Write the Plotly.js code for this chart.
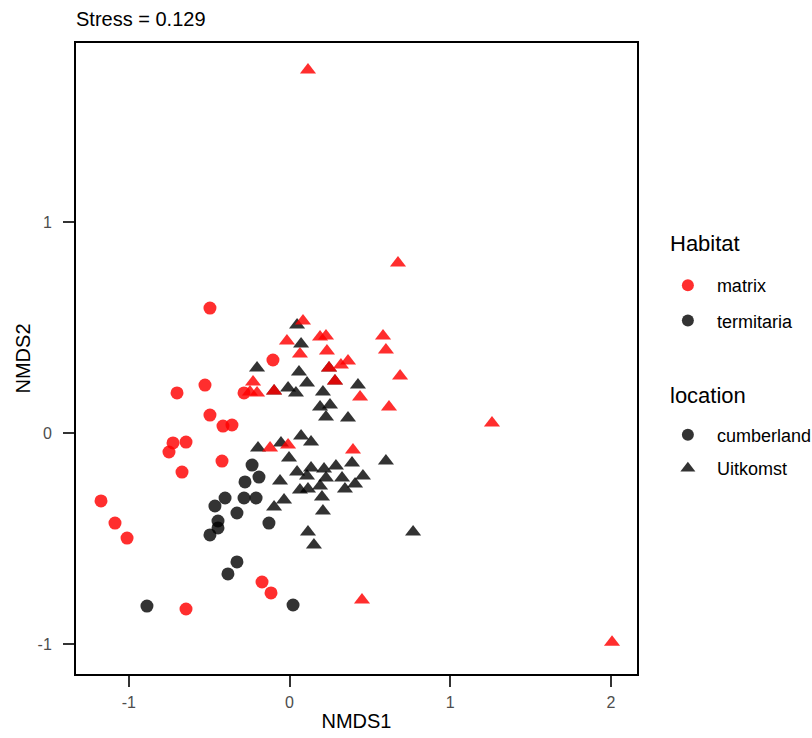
<!DOCTYPE html>
<html>
<head>
<meta charset="utf-8">
<script src="https://cdn.plot.ly/plotly-3.0.1.min.js"></script>
<style>
  html, body { margin: 0; padding: 0; background: #ffffff; }
  #plot { width: 812px; height: 738px; }
</style>
</head>
<body>
<div id="plot"></div>
<script>
// NMDS site scores, split by Habitat x location
// termitaria / cumberland (circles, dark)
const termCumbX = [-0.233, -0.190, -0.277, -0.401, -0.464, -0.283, -0.208, -0.327, -0.445, -0.445, -0.495, -0.128, -0.327, -0.383, -0.887, 0.022];
const termCumbY = [-0.152, -0.209, -0.232, -0.308, -0.346, -0.308, -0.308, -0.379, -0.417, -0.450, -0.483, -0.427, -0.611, -0.668, -0.820, -0.815];

// termitaria / Uitkomst (triangles, dark)
const termUitX = [0.047, 0.072, -0.202, 0.059, 0.109, -0.009, 0.040, -0.096, 0.208, 0.246, 0.283, 0.426, 0.190, 0.252, 0.227, 0.364,
                  0.072, 0.134, -0.196, -0.053, -0.003, -0.059, 0.047, 0.109, 0.134, 0.215, 0.289, 0.389, 0.227, 0.327, 0.190, 0.457,
                  0.408, 0.345, 0.065, 0.115, 0.202, -0.034, -0.096, 0.208, 0.115, 0.152, 0.600, 0.769];
const termUitY = [0.512, 0.422, 0.308, 0.289, 0.237, 0.213, 0.190, 0.199, 0.194, 0.308, 0.246, 0.227, 0.123, 0.133, 0.076, 0.071,
                  -0.014, -0.043, -0.071, -0.047, -0.118, -0.227, -0.185, -0.204, -0.166, -0.171, -0.156, -0.142, -0.213, -0.213, -0.251, -0.204,
                  -0.242, -0.265, -0.270, -0.265, -0.303, -0.318, -0.351, -0.370, -0.469, -0.531, -0.133, -0.469];

// matrix / cumberland (circles, red)
const matCumbX = [-0.495, -0.526, -0.700, -0.495, -0.414, -0.358, -0.725, -0.644, -0.750, -0.420, -0.669, -1.173, -1.086, -1.011, -0.171, -0.115, -0.644, -0.103, -0.283];
const matCumbY = [0.592, 0.227, 0.190, 0.085, 0.033, 0.038, -0.047, -0.043, -0.090, -0.133, -0.185, -0.322, -0.427, -0.498, -0.706, -0.758, -0.834, 0.346, 0.190];

// matrix / Uitkomst (triangles, red)
const matUitX = [0.115, 0.675, 0.084, -0.016, 0.190, 0.227, 0.233, 0.065, 0.246, 0.320, 0.364, 0.283, 0.582, 0.600, 0.688, 0.439,
                 0.619, -0.227, -0.246, -0.202, -0.096, -0.121, -0.009, 0.395, 1.260, 2.007, 0.451];
const matUitY = [1.720, 0.806, 0.531, 0.436, 0.455, 0.460, 0.389, 0.374, 0.308, 0.322, 0.341, 0.246, 0.460, 0.393, 0.270, 0.171,
                 0.123, 0.242, 0.194, 0.190, 0.199, -0.071, -0.057, -0.081, 0.047, -0.991, -0.791];

const habitatLabels = ["matrix", "termitaria"];
const locationLabels = ["cumberland", "Uitkomst"];
const legendTitles = ["Habitat", "location"];
const stressText = "Stress = 0.129";

const RED = "rgba(255,0,0,0.82)";
const DARK = "rgba(0,0,0,0.8)";
const CIRCLE_SIZE = 13;
const TRI_SIZE = 14;
const FONT = "Liberation Sans, Arial, sans-serif";

function pts(x, y, color, symbol) {
  return {
    type: "scatter", mode: "markers", x: x, y: y, showlegend: false, hoverinfo: "skip",
    marker: { color: color, symbol: symbol, size: symbol === "circle" ? CIRCLE_SIZE : TRI_SIZE, line: { width: 0 } }
  };
}
function key(name, color, symbol, legendId, group) {
  return {
    type: "scatter", mode: "markers", x: [null], y: [null], name: name,
    legend: legendId, legendgroup: group, showlegend: true,
    marker: { color: color, symbol: symbol, size: symbol === "circle" ? 12 : 13, line: { width: 0 } }
  };
}

// dark marks first so red ones sit on top of them
const data = [
  pts(termCumbX, termCumbY, DARK, "circle"),
  pts(termUitX, termUitY, DARK, "triangle-up"),
  pts(matCumbX, matCumbY, RED, "circle"),
  pts(matUitX, matUitY, RED, "triangle-up"),
  key(habitatLabels[0], RED, "circle", "legend", "h1"),
  key(habitatLabels[1], DARK, "circle", "legend", "h2"),
  key(locationLabels[0], DARK, "circle", "legend2", "l1"),
  key(locationLabels[1], DARK, "triangle-up", "legend2", "l2")
];

const axisCommon = {
  showgrid: false, zeroline: false,
  showline: true, mirror: true, linecolor: "#000000", linewidth: 2,
  ticks: "outside", ticklen: 11, tickwidth: 2, tickcolor: "#333333",
  tickfont: { family: FONT, size: 16, color: "#4d4d4d" }
};

const legendCommon = {
  font: { family: FONT, size: 18, color: "#000000" },
  xanchor: "left", yanchor: "top",
  bgcolor: "rgba(0,0,0,0)", itemwidth: 48
};

const layout = {
  width: 812, height: 738,
  paper_bgcolor: "#ffffff", plot_bgcolor: "#ffffff",
  margin: { l: 76, r: 175, t: 43, b: 64, autoexpand: false },
  font: { family: FONT, color: "#000000" },
  title: {
    text: stressText, font: { family: FONT, size: 20, color: "#000000" },
    xref: "paper", x: 0, xanchor: "left",
    yref: "container", y: 1 - 19 / 738, yanchor: "middle"
  },
  xaxis: Object.assign({}, axisCommon, {
    range: [-1.3286, 2.1624], tickvals: [-1, 0, 1, 2], ticktext: ["-1", "0", "1", "2"],
    ticklabelstandoff: 2,
    title: { text: "NMDS1", font: { family: FONT, size: 20, color: "#000000" }, standoff: 4 }
  }),
  yaxis: Object.assign({}, axisCommon, {
    range: [-1.142, 1.848], tickvals: [-1, 0, 1], ticktext: ["-1", "0", "1"],
    ticklabelstandoff: 8,
    title: { text: "NMDS2", font: { family: FONT, size: 20, color: "#000000" }, standoff: 2 }
  }),
  legend: Object.assign({}, legendCommon, { x: 1.039, y: 0.645, tracegroupgap: 9 }),
  legend2: Object.assign({}, legendCommon, { x: 1.039, y: 0.408, tracegroupgap: 7 }),
  annotations: [
    { text: legendTitles[0], xref: "paper", yref: "paper", x: 1.055, y: (674 - 243) / 631,
      xanchor: "left", yanchor: "middle", showarrow: false, font: { family: FONT, size: 22, color: "#000000" } },
    { text: legendTitles[1], xref: "paper", yref: "paper", x: 1.055, y: (674 - 395) / 631,
      xanchor: "left", yanchor: "middle", showarrow: false, font: { family: FONT, size: 22, color: "#000000" } }
  ]
};

Plotly.newPlot("plot", data, layout, { displayModeBar: false, staticPlot: true });
</script>
</body>
</html>
